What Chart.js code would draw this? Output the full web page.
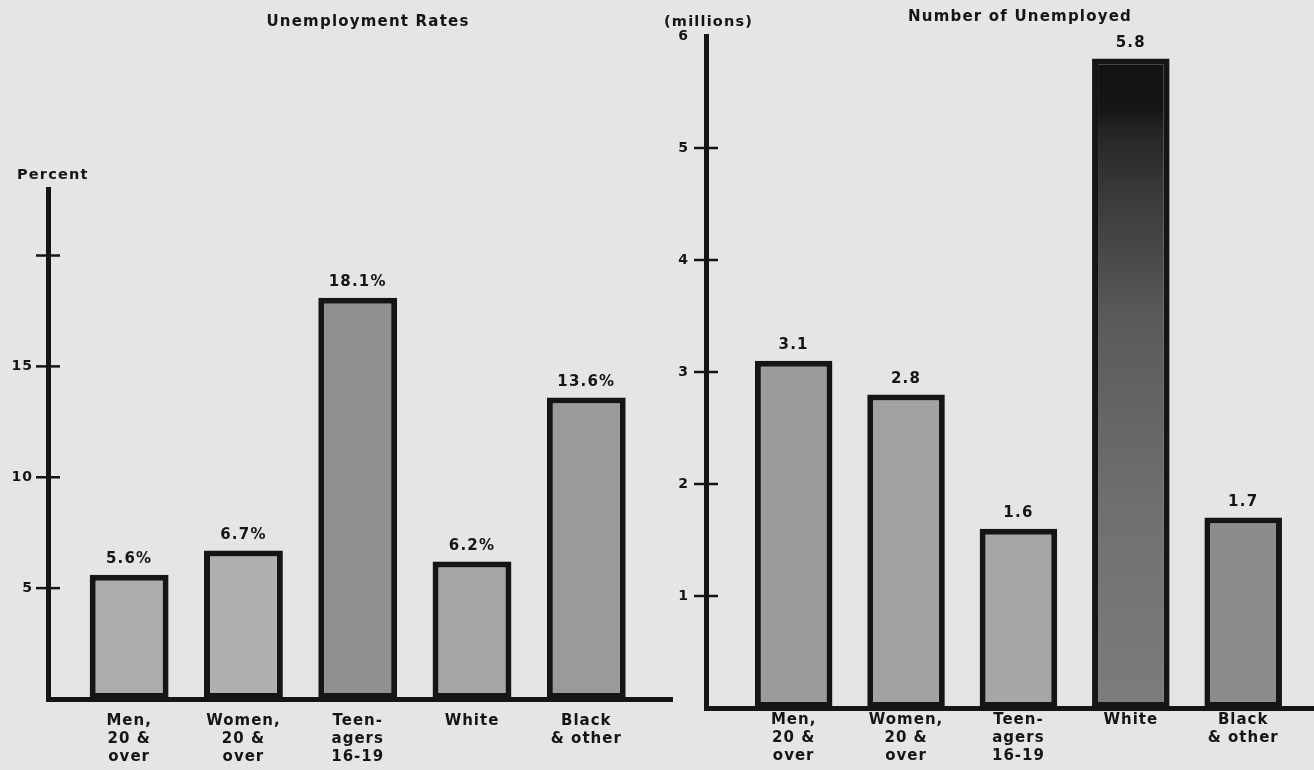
<!DOCTYPE html>
<html>
<head>
<meta charset="utf-8">
<script src="https://cdn.jsdelivr.net/npm/chart.js@4/dist/chart.umd.min.js"></script>
<style>
  html, body { margin: 0; padding: 0; background: #e5e5e5; }
  #wrap { position: relative; width: 1314px; height: 770px; overflow: hidden; }
  canvas { position: absolute; top: 0; }
  #rates { left: 0; }
  #counts { left: 640px; }
</style>
</head>
<body>
<div id="wrap">
  <canvas id="rates" width="680" height="770"></canvas>
  <canvas id="counts" width="674" height="770"></canvas>
</div>
<script>
// categories (multi-line, as printed under the bars)
const categories = [
  ['Men,', '20 &', 'over'],
  ['Women,', '20 &', 'over'],
  ['Teen-', 'agers', '16-19'],
  ['White'],
  ['Black', '& other']
];

// unemployment rates, percent
const rateValues = [5.6, 6.7, 18.1, 6.2, 13.6];
const rateTicks = [5, 10, 15, 20];
const rateTickLabels = ['5', '10', '15', ''];
const rateColors = ['#acacac', '#b0b0b0', '#909090', '#a6a6a6', '#9a9a9a'];

// number of unemployed, millions
const countValues = [3.1, 2.8, 1.6, 5.8, 1.7];
const countTicks = [1, 2, 3, 4, 5, 6];
const countTickLabels = ['1', '2', '3', '4', '5', '6'];
const countColors = ['#9c9c9c', '#a2a2a2', '#a6a6a6', 'shade', '#8c8c8c'];

const ink = '#151515';
const face = '"DejaVu Sans", "Liberation Sans", sans-serif';

Chart.defaults.font.family = face;
Chart.defaults.font.weight = 'bold';
Chart.defaults.color = ink;

// dark printed bar: black cap fading to mid grey at the base
function shadeFill(ctx) {
  const chart = ctx.chart;
  const y = chart.scales && chart.scales.y;
  if (!chart.chartArea || !y || !ctx.parsed) return '#555';
  const top = y.getPixelForValue(ctx.parsed.y);
  const base = y.getPixelForValue(0);
  const g = chart.ctx.createLinearGradient(0, top, 0, base);
  g.addColorStop(0, '#121212');
  g.addColorStop(0.08, '#161616');
  g.addColorStop(0.11, '#242424');
  g.addColorStop(0.2, '#383838');
  g.addColorStop(0.4, '#5a5a5a');
  g.addColorStop(0.7, '#707070');
  g.addColorStop(1, '#7c7c7c');
  return g;
}

const paperText = {
  id: 'paperText',
  beforeDraw(chart) {
    chart.ctx.letterSpacing = '1px';
  },
  afterDatasetsDraw(chart, args, opts) {
    const ctx = chart.ctx;
    const yScale = chart.scales.y;
    const left = chart.chartArea.left;
    ctx.save();
    ctx.letterSpacing = '1.2px';
    ctx.fillStyle = ink;
    ctx.strokeStyle = ink;

    // tick marks crossing the axis
    ctx.lineWidth = 2.5;
    opts.crossTicks.forEach(v => {
      const py = yScale.getPixelForValue(v);
      ctx.beginPath();
      ctx.moveTo(left - 12, py);
      ctx.lineTo(left + 12, py);
      ctx.stroke();
    });

    // values over the bars
    ctx.font = 'bold 15px ' + face;
    ctx.textAlign = 'center';
    ctx.textBaseline = 'bottom';
    chart.getDatasetMeta(0).data.forEach((bar, i) => {
      ctx.fillText(opts.valueLabels[i], bar.x, bar.y - 8);
    });

    // headings
    ctx.textBaseline = 'middle';
    opts.texts.forEach(t => {
      ctx.font = t.font;
      ctx.textAlign = t.align;
      ctx.fillText(t.text, t.x, t.y);
    });
    ctx.restore();
  }
};

function makeChart(id, cfg) {
  const points = cfg.values.map((v, i) => ({ x: i, y: v }));
  return new Chart(document.getElementById(id), {
    type: 'bar',
    data: {
      datasets: [{
        data: points,
        backgroundColor: ctx => cfg.colors[ctx.dataIndex] === 'shade' ? shadeFill(ctx) : cfg.colors[ctx.dataIndex],
        borderColor: ink,
        borderWidth: 6,
        borderSkipped: false,
        barPercentage: cfg.barPct,
        categoryPercentage: 1
      }]
    },
    options: {
      responsive: false,
      animation: false,
      devicePixelRatio: 1,
      layout: { padding: { top: cfg.top, right: cfg.right, left: 0, bottom: 0 } },
      plugins: {
        legend: { display: false },
        tooltip: { enabled: false },
        title: { display: false },
        paperText: {
          crossTicks: cfg.crossTicks,
          valueLabels: cfg.valueLabels,
          texts: cfg.texts
        }
      },
      scales: {
        x: {
          type: 'linear',
          offset: false,
          min: cfg.xMin,
          max: cfg.xMax,
          grid: { display: false },
          border: { display: true, color: ink, width: 5 },
          afterBuildTicks: s => { s.ticks = categories.map((_, i) => ({ value: i })); },
          afterFit: s => { s.height = cfg.xHeight; },
          ticks: {
            autoSkip: false,
            maxRotation: 0,
            padding: cfg.xPad,
            font: { size: 15, weight: 'bold', lineHeight: 1.2 },
            callback: v => categories[v] || ''
          }
        },
        y: {
          min: 0,
          max: cfg.yMax,
          grid: { display: false },
          border: { display: true, color: ink, width: 5 },
          afterBuildTicks: s => { s.ticks = cfg.ticks.map(v => ({ value: v })); },
          afterFit: s => { s.width = cfg.yWidth; },
          ticks: {
            padding: cfg.tickPad,
            font: { size: 14, weight: 'bold' },
            callback: v => cfg.tickLabels[cfg.ticks.indexOf(v)] ?? ''
          }
        }
      }
    },
    plugins: [paperText]
  });
}

makeChart('rates', {
  values: rateValues,
  colors: rateColors,
  valueLabels: rateValues.map(v => v.toFixed(1) + '%'),
  ticks: rateTicks,
  tickLabels: rateTickLabels,
  crossTicks: rateTicks,
  yMax: 23,
  xMin: -0.71,
  xMax: 4.75,
  barPct: 0.69,
  top: 189,
  right: 8,
  xHeight: 71,
  xPad: 5,
  yWidth: 48,
  tickPad: 7,
  texts: [
    { text: 'Unemployment Rates', x: 368, y: 22, align: 'center', font: 'bold 15px ' + face },
    { text: 'Percent', x: 17, y: 175, align: 'left', font: 'bold 14.5px ' + face }
  ]
});

makeChart('counts', {
  values: countValues,
  colors: countColors,
  valueLabels: countValues.map(v => v.toFixed(1)),
  ticks: countTicks,
  tickLabels: countTickLabels,
  crossTicks: countTicks.slice(0, -1),
  yMax: 6,
  xMin: -0.78,
  xMax: 4.63,
  barPct: 0.69,
  top: 36,
  right: 0,
  xHeight: 62,
  xPad: -5,
  yWidth: 66,
  tickPad: 9,
  texts: [
    { text: 'Number of Unemployed', x: 380, y: 17, align: 'center', font: 'bold 15px ' + face },
    { text: '(millions)', x: 24, y: 22, align: 'left', font: 'bold 14.5px ' + face }
  ]
});
</script>
</body>
</html>
